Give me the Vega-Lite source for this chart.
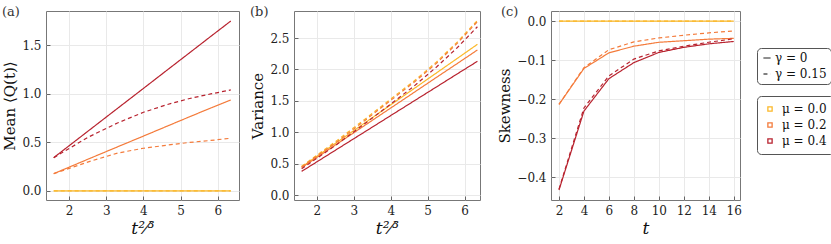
{
  "$schema": "https://vega.github.io/schema/vega-lite/v6.json",
  "background": "white",
  "padding": {"left": 1, "top": 5, "right": 2, "bottom": 2},
  "config": {
    "font": "DejaVu Serif",
    "view": {"stroke": "#777", "strokeWidth": 1},
    "axis": {
      "labelFont": "DejaVu Serif", "labelFontSize": 12, "labelColor": "#222",
      "titleFont": "DejaVu Serif", "titleFontSize": 15, "titleFontWeight": "normal", "titleColor": "#111",
      "domain": false, "tickColor": "#666", "tickSize": -4, "labelPadding": 9,
      "gridColor": "#e9e9e9", "gridWidth": 1
    },
    "legend": {
      "strokeColor": "#555", "cornerRadius": 4, "fillColor": "white",
      "labelFont": "DejaVu Serif", "labelFontSize": 12, "labelColor": "#111",
      "rowPadding": 4
    },
    "title": {"font": "DejaVu Serif", "fontSize": 13, "fontWeight": "normal", "color": "#333"}
  },
  "datasets": {
    "d": [
      {"p": "a", "x": 1.5874, "y": 0, "mu": "μ = 0.0", "g": "γ = 0"},
      {"p": "a", "x": 6.3496, "y": 0, "mu": "μ = 0.0", "g": "γ = 0"},
      {"p": "a", "x": 1.5874, "y": 0, "mu": "μ = 0.0", "g": "γ = 0.15"},
      {"p": "a", "x": 6.3496, "y": 0, "mu": "μ = 0.0", "g": "γ = 0.15"},
      {"p": "a", "x": 1.5874, "y": 0.178, "mu": "μ = 0.2", "g": "γ = 0"},
      {"p": "a", "x": 2.5198, "y": 0.329, "mu": "μ = 0.2", "g": "γ = 0"},
      {"p": "a", "x": 3.3019, "y": 0.454, "mu": "μ = 0.2", "g": "γ = 0"},
      {"p": "a", "x": 4.0, "y": 0.565, "mu": "μ = 0.2", "g": "γ = 0"},
      {"p": "a", "x": 4.6416, "y": 0.668, "mu": "μ = 0.2", "g": "γ = 0"},
      {"p": "a", "x": 5.2415, "y": 0.764, "mu": "μ = 0.2", "g": "γ = 0"},
      {"p": "a", "x": 5.8088, "y": 0.854, "mu": "μ = 0.2", "g": "γ = 0"},
      {"p": "a", "x": 6.3496, "y": 0.937, "mu": "μ = 0.2", "g": "γ = 0"},
      {"p": "a", "x": 1.5874, "y": 0.178, "mu": "μ = 0.2", "g": "γ = 0.15"},
      {"p": "a", "x": 2.5198, "y": 0.3, "mu": "μ = 0.2", "g": "γ = 0.15"},
      {"p": "a", "x": 3.3019, "y": 0.39, "mu": "μ = 0.2", "g": "γ = 0.15"},
      {"p": "a", "x": 4.0, "y": 0.44, "mu": "μ = 0.2", "g": "γ = 0.15"},
      {"p": "a", "x": 4.6416, "y": 0.472, "mu": "μ = 0.2", "g": "γ = 0.15"},
      {"p": "a", "x": 5.2415, "y": 0.5, "mu": "μ = 0.2", "g": "γ = 0.15"},
      {"p": "a", "x": 5.8088, "y": 0.52, "mu": "μ = 0.2", "g": "γ = 0.15"},
      {"p": "a", "x": 6.3496, "y": 0.543, "mu": "μ = 0.2", "g": "γ = 0.15"},
      {"p": "a", "x": 1.5874, "y": 0.343, "mu": "μ = 0.4", "g": "γ = 0"},
      {"p": "a", "x": 2.5198, "y": 0.619, "mu": "μ = 0.4", "g": "γ = 0"},
      {"p": "a", "x": 3.3019, "y": 0.85, "mu": "μ = 0.4", "g": "γ = 0"},
      {"p": "a", "x": 4.0, "y": 1.056, "mu": "μ = 0.4", "g": "γ = 0"},
      {"p": "a", "x": 4.6416, "y": 1.246, "mu": "μ = 0.4", "g": "γ = 0"},
      {"p": "a", "x": 5.2415, "y": 1.423, "mu": "μ = 0.4", "g": "γ = 0"},
      {"p": "a", "x": 5.8088, "y": 1.591, "mu": "μ = 0.4", "g": "γ = 0"},
      {"p": "a", "x": 6.3496, "y": 1.75, "mu": "μ = 0.4", "g": "γ = 0"},
      {"p": "a", "x": 1.5874, "y": 0.343, "mu": "μ = 0.4", "g": "γ = 0.15"},
      {"p": "a", "x": 2.5198, "y": 0.555, "mu": "μ = 0.4", "g": "γ = 0.15"},
      {"p": "a", "x": 3.3019, "y": 0.7, "mu": "μ = 0.4", "g": "γ = 0.15"},
      {"p": "a", "x": 4.0, "y": 0.81, "mu": "μ = 0.4", "g": "γ = 0.15"},
      {"p": "a", "x": 4.6416, "y": 0.89, "mu": "μ = 0.4", "g": "γ = 0.15"},
      {"p": "a", "x": 5.2415, "y": 0.952, "mu": "μ = 0.4", "g": "γ = 0.15"},
      {"p": "a", "x": 5.8088, "y": 0.999, "mu": "μ = 0.4", "g": "γ = 0.15"},
      {"p": "a", "x": 6.3496, "y": 1.04, "mu": "μ = 0.4", "g": "γ = 0.15"},

      {"p": "b", "x": 1.5874, "y": 0.45, "mu": "μ = 0.0", "g": "γ = 0"},
      {"p": "b", "x": 2.5198, "y": 0.832, "mu": "μ = 0.0", "g": "γ = 0"},
      {"p": "b", "x": 3.3019, "y": 1.152, "mu": "μ = 0.0", "g": "γ = 0"},
      {"p": "b", "x": 4.0, "y": 1.438, "mu": "μ = 0.0", "g": "γ = 0"},
      {"p": "b", "x": 4.6416, "y": 1.7, "mu": "μ = 0.0", "g": "γ = 0"},
      {"p": "b", "x": 5.2415, "y": 1.946, "mu": "μ = 0.0", "g": "γ = 0"},
      {"p": "b", "x": 5.8088, "y": 2.178, "mu": "μ = 0.0", "g": "γ = 0"},
      {"p": "b", "x": 6.3496, "y": 2.4, "mu": "μ = 0.0", "g": "γ = 0"},
      {"p": "b", "x": 1.5874, "y": 0.46, "mu": "μ = 0.0", "g": "γ = 0.15"},
      {"p": "b", "x": 2.5198, "y": 0.86, "mu": "μ = 0.0", "g": "γ = 0.15"},
      {"p": "b", "x": 3.3019, "y": 1.21, "mu": "μ = 0.0", "g": "γ = 0.15"},
      {"p": "b", "x": 4.0, "y": 1.53, "mu": "μ = 0.0", "g": "γ = 0.15"},
      {"p": "b", "x": 4.6416, "y": 1.82, "mu": "μ = 0.0", "g": "γ = 0.15"},
      {"p": "b", "x": 5.2415, "y": 2.12, "mu": "μ = 0.0", "g": "γ = 0.15"},
      {"p": "b", "x": 5.8088, "y": 2.44, "mu": "μ = 0.0", "g": "γ = 0.15"},
      {"p": "b", "x": 6.3496, "y": 2.78, "mu": "μ = 0.0", "g": "γ = 0.15"},
      {"p": "b", "x": 1.5874, "y": 0.44, "mu": "μ = 0.2", "g": "γ = 0"},
      {"p": "b", "x": 2.5198, "y": 0.806, "mu": "μ = 0.2", "g": "γ = 0"},
      {"p": "b", "x": 3.3019, "y": 1.113, "mu": "μ = 0.2", "g": "γ = 0"},
      {"p": "b", "x": 4.0, "y": 1.387, "mu": "μ = 0.2", "g": "γ = 0"},
      {"p": "b", "x": 4.6416, "y": 1.639, "mu": "μ = 0.2", "g": "γ = 0"},
      {"p": "b", "x": 5.2415, "y": 1.875, "mu": "μ = 0.2", "g": "γ = 0"},
      {"p": "b", "x": 5.8088, "y": 2.097, "mu": "μ = 0.2", "g": "γ = 0"},
      {"p": "b", "x": 6.3496, "y": 2.31, "mu": "μ = 0.2", "g": "γ = 0"},
      {"p": "b", "x": 1.5874, "y": 0.45, "mu": "μ = 0.2", "g": "γ = 0.15"},
      {"p": "b", "x": 2.5198, "y": 0.84, "mu": "μ = 0.2", "g": "γ = 0.15"},
      {"p": "b", "x": 3.3019, "y": 1.19, "mu": "μ = 0.2", "g": "γ = 0.15"},
      {"p": "b", "x": 4.0, "y": 1.51, "mu": "μ = 0.2", "g": "γ = 0.15"},
      {"p": "b", "x": 4.6416, "y": 1.8, "mu": "μ = 0.2", "g": "γ = 0.15"},
      {"p": "b", "x": 5.2415, "y": 2.1, "mu": "μ = 0.2", "g": "γ = 0.15"},
      {"p": "b", "x": 5.8088, "y": 2.42, "mu": "μ = 0.2", "g": "γ = 0.15"},
      {"p": "b", "x": 6.3496, "y": 2.76, "mu": "μ = 0.2", "g": "γ = 0.15"},
      {"p": "b", "x": 1.5874, "y": 0.38, "mu": "μ = 0.4", "g": "γ = 0"},
      {"p": "b", "x": 2.5198, "y": 0.723, "mu": "μ = 0.4", "g": "γ = 0"},
      {"p": "b", "x": 3.3019, "y": 1.01, "mu": "μ = 0.4", "g": "γ = 0"},
      {"p": "b", "x": 4.0, "y": 1.267, "mu": "μ = 0.4", "g": "γ = 0"},
      {"p": "b", "x": 4.6416, "y": 1.503, "mu": "μ = 0.4", "g": "γ = 0"},
      {"p": "b", "x": 5.2415, "y": 1.723, "mu": "μ = 0.4", "g": "γ = 0"},
      {"p": "b", "x": 5.8088, "y": 1.932, "mu": "μ = 0.4", "g": "γ = 0"},
      {"p": "b", "x": 6.3496, "y": 2.13, "mu": "μ = 0.4", "g": "γ = 0"},
      {"p": "b", "x": 1.5874, "y": 0.42, "mu": "μ = 0.4", "g": "γ = 0.15"},
      {"p": "b", "x": 2.5198, "y": 0.8, "mu": "μ = 0.4", "g": "γ = 0.15"},
      {"p": "b", "x": 3.3019, "y": 1.14, "mu": "μ = 0.4", "g": "γ = 0.15"},
      {"p": "b", "x": 4.0, "y": 1.45, "mu": "μ = 0.4", "g": "γ = 0.15"},
      {"p": "b", "x": 4.6416, "y": 1.74, "mu": "μ = 0.4", "g": "γ = 0.15"},
      {"p": "b", "x": 5.2415, "y": 2.04, "mu": "μ = 0.4", "g": "γ = 0.15"},
      {"p": "b", "x": 5.8088, "y": 2.35, "mu": "μ = 0.4", "g": "γ = 0.15"},
      {"p": "b", "x": 6.3496, "y": 2.68, "mu": "μ = 0.4", "g": "γ = 0.15"},

      {"p": "c", "x": 2, "y": 0, "mu": "μ = 0.0", "g": "γ = 0"},
      {"p": "c", "x": 16, "y": 0, "mu": "μ = 0.0", "g": "γ = 0"},
      {"p": "c", "x": 2, "y": 0, "mu": "μ = 0.0", "g": "γ = 0.15"},
      {"p": "c", "x": 16, "y": 0, "mu": "μ = 0.0", "g": "γ = 0.15"},
      {"p": "c", "x": 2, "y": -0.213, "mu": "μ = 0.2", "g": "γ = 0"},
      {"p": "c", "x": 4, "y": -0.121, "mu": "μ = 0.2", "g": "γ = 0"},
      {"p": "c", "x": 6, "y": -0.081, "mu": "μ = 0.2", "g": "γ = 0"},
      {"p": "c", "x": 8, "y": -0.064, "mu": "μ = 0.2", "g": "γ = 0"},
      {"p": "c", "x": 10, "y": -0.054, "mu": "μ = 0.2", "g": "γ = 0"},
      {"p": "c", "x": 12, "y": -0.05, "mu": "μ = 0.2", "g": "γ = 0"},
      {"p": "c", "x": 14, "y": -0.046, "mu": "μ = 0.2", "g": "γ = 0"},
      {"p": "c", "x": 16, "y": -0.044, "mu": "μ = 0.2", "g": "γ = 0"},
      {"p": "c", "x": 2, "y": -0.213, "mu": "μ = 0.2", "g": "γ = 0.15"},
      {"p": "c", "x": 4, "y": -0.119, "mu": "μ = 0.2", "g": "γ = 0.15"},
      {"p": "c", "x": 6, "y": -0.073, "mu": "μ = 0.2", "g": "γ = 0.15"},
      {"p": "c", "x": 8, "y": -0.053, "mu": "μ = 0.2", "g": "γ = 0.15"},
      {"p": "c", "x": 10, "y": -0.043, "mu": "μ = 0.2", "g": "γ = 0.15"},
      {"p": "c", "x": 12, "y": -0.036, "mu": "μ = 0.2", "g": "γ = 0.15"},
      {"p": "c", "x": 14, "y": -0.03, "mu": "μ = 0.2", "g": "γ = 0.15"},
      {"p": "c", "x": 16, "y": -0.025, "mu": "μ = 0.2", "g": "γ = 0.15"},
      {"p": "c", "x": 2, "y": -0.432, "mu": "μ = 0.4", "g": "γ = 0"},
      {"p": "c", "x": 4, "y": -0.23, "mu": "μ = 0.4", "g": "γ = 0"},
      {"p": "c", "x": 6, "y": -0.147, "mu": "μ = 0.4", "g": "γ = 0"},
      {"p": "c", "x": 8, "y": -0.106, "mu": "μ = 0.4", "g": "γ = 0"},
      {"p": "c", "x": 10, "y": -0.08, "mu": "μ = 0.4", "g": "γ = 0"},
      {"p": "c", "x": 12, "y": -0.067, "mu": "μ = 0.4", "g": "γ = 0"},
      {"p": "c", "x": 14, "y": -0.058, "mu": "μ = 0.4", "g": "γ = 0"},
      {"p": "c", "x": 16, "y": -0.052, "mu": "μ = 0.4", "g": "γ = 0"},
      {"p": "c", "x": 2, "y": -0.43, "mu": "μ = 0.4", "g": "γ = 0.15"},
      {"p": "c", "x": 4, "y": -0.222, "mu": "μ = 0.4", "g": "γ = 0.15"},
      {"p": "c", "x": 6, "y": -0.14, "mu": "μ = 0.4", "g": "γ = 0.15"},
      {"p": "c", "x": 8, "y": -0.097, "mu": "μ = 0.4", "g": "γ = 0.15"},
      {"p": "c", "x": 10, "y": -0.076, "mu": "μ = 0.4", "g": "γ = 0.15"},
      {"p": "c", "x": 12, "y": -0.064, "mu": "μ = 0.4", "g": "γ = 0.15"},
      {"p": "c", "x": 14, "y": -0.054, "mu": "μ = 0.4", "g": "γ = 0.15"},
      {"p": "c", "x": 16, "y": -0.045, "mu": "μ = 0.4", "g": "γ = 0.15"}
    ]
  },
  "resolve": {"scale": {"color": "shared", "strokeDash": "shared"}, "legend": {"color": "shared", "strokeDash": "shared"}},
  "bounds": "flush",
  "spacing": 55,
  "hconcat": [
    {
      "width": 193, "height": 189,
      "title": {"text": "(a)", "anchor": "start", "frame": "group", "dx": -44, "dy": 12},
      "data": {"name": "d"},
      "transform": [{"filter": "datum.p === 'a'"}],
      "mark": {"type": "line", "strokeWidth": 1.2, "clip": true},
      "encoding": {
        "x": {"field": "x", "type": "quantitative", "scale": {"domain": [1.38, 6.57], "nice": false, "zero": false},
              "axis": {"values": [2, 3, 4, 5, 6], "title": "t²⁄³", "titleFontStyle": "italic", "titleFontSize": 17}},
        "y": {"field": "y", "type": "quantitative", "scale": {"domain": [-0.093, 1.853], "nice": false, "zero": false},
              "axis": {"values": [0, 0.5, 1, 1.5], "format": ".1f", "title": "Mean ⟨Q(t)⟩"}},
        "color": {"field": "mu", "type": "nominal",
                  "scale": {"domain": ["μ = 0.0", "μ = 0.2", "μ = 0.4"], "range": ["#FBB829", "#F47B3B", "#B8232F"]},
                  "legend": {"title": null, "orient": "none", "legendX": 711, "legendY": 85, "padding": 7, "symbolType": "square", "symbolSize": 18, "symbolStrokeWidth": 1.3, "labelOffset": 6}},
        "strokeDash": {"field": "g", "type": "nominal",
                  "scale": {"domain": ["γ = 0", "γ = 0.15"], "range": [[1, 0], [4, 3]]},
                  "legend": {"title": null, "orient": "none", "legendX": 711, "legendY": 37, "padding": 4, "symbolType": "stroke", "symbolSize": 50, "symbolStrokeColor": "black", "symbolStrokeWidth": 1, "labelOffset": 2}}
      }
    },
    {
      "bounds": "flush",
      "spacing": 71,
      "hconcat": [
        {
          "width": 186, "height": 189,
          "title": {"text": "(b)", "anchor": "start", "frame": "group", "dx": -44, "dy": 12},
          "data": {"name": "d"},
          "transform": [{"filter": "datum.p === 'b'"}],
          "mark": {"type": "line", "strokeWidth": 1.2, "clip": true},
          "encoding": {
            "x": {"field": "x", "type": "quantitative", "scale": {"domain": [1.38, 6.42], "nice": false, "zero": false},
                  "axis": {"values": [2, 3, 4, 5, 6], "title": "t²⁄³", "titleFontStyle": "italic", "titleFontSize": 17}},
            "y": {"field": "y", "type": "quantitative", "scale": {"domain": [-0.075, 2.93], "nice": false, "zero": false},
                  "axis": {"values": [0, 0.5, 1, 1.5, 2, 2.5], "format": ".1f", "title": "Variance"}},
            "color": {"field": "mu", "type": "nominal",
                      "scale": {"domain": ["μ = 0.0", "μ = 0.2", "μ = 0.4"], "range": ["#FBB829", "#F47B3B", "#B8232F"]}},
            "strokeDash": {"field": "g", "type": "nominal",
                      "scale": {"domain": ["γ = 0", "γ = 0.15"], "range": [[1, 0], [4, 3]]}}
          }
        },
        {
          "width": 189, "height": 189,
          "title": {"text": "(c)", "anchor": "start", "frame": "group", "dx": -50, "dy": 12},
          "data": {"name": "d"},
          "transform": [{"filter": "datum.p === 'c'"}],
          "mark": {"type": "line", "strokeWidth": 1.2, "clip": true},
          "encoding": {
            "x": {"field": "x", "type": "quantitative", "scale": {"domain": [1.36, 16.5], "nice": false, "zero": false},
                  "axis": {"values": [2, 4, 6, 8, 10, 12, 14, 16], "title": "t", "titleFontStyle": "italic", "titleFontSize": 17}},
            "y": {"field": "y", "type": "quantitative", "scale": {"domain": [-0.4576, 0.026], "nice": false, "zero": false},
                  "axis": {"values": [0, -0.1, -0.2, -0.3, -0.4], "format": ".1f", "title": "Skewness"}},
            "color": {"field": "mu", "type": "nominal",
                      "scale": {"domain": ["μ = 0.0", "μ = 0.2", "μ = 0.4"], "range": ["#FBB829", "#F47B3B", "#B8232F"]}},
            "strokeDash": {"field": "g", "type": "nominal",
                      "scale": {"domain": ["γ = 0", "γ = 0.15"], "range": [[1, 0], [4, 3]]}}
          }
        }
      ]
    }
  ]
}
